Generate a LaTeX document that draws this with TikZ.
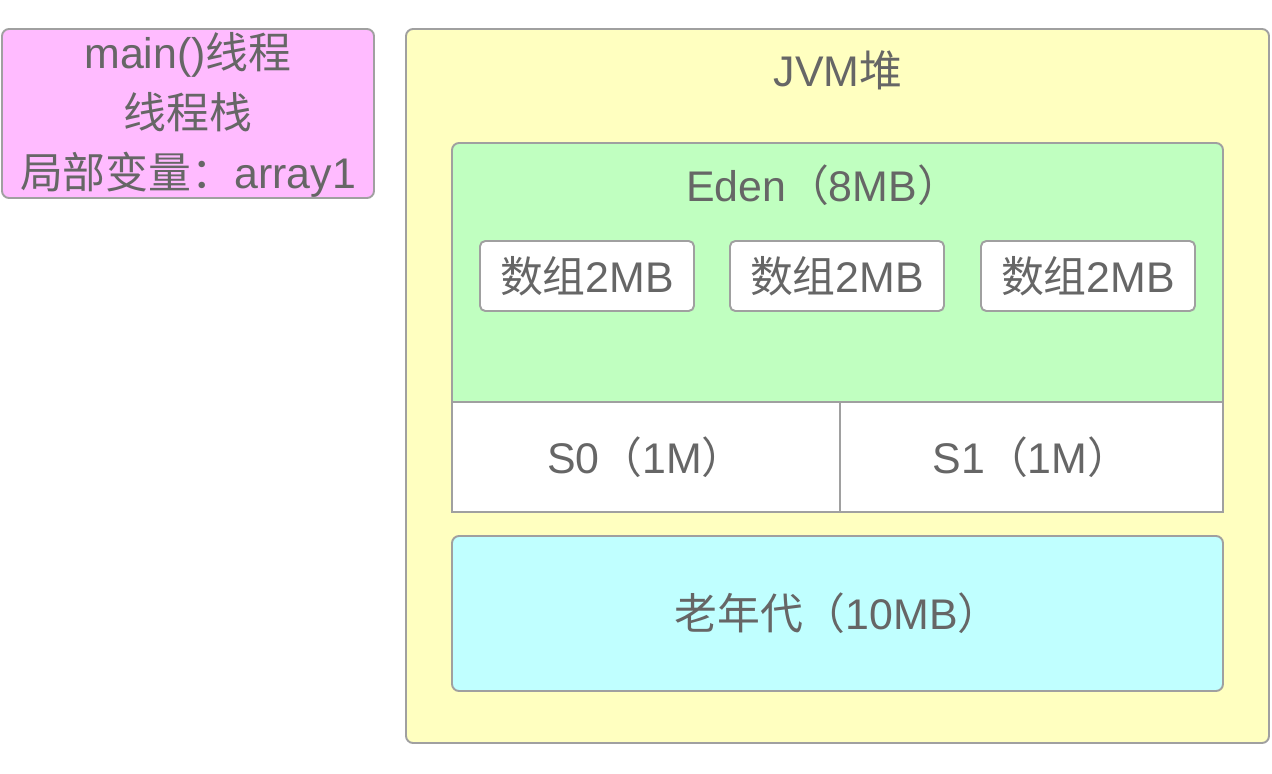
\documentclass[tikz,border=0pt]{standalone}
\usepackage{fontspec}
\setmainfont{Liberation Sans}
\newfontfamily\cjk{Noto Sans CJK SC}
\usetikzlibrary{positioning}
\definecolor{edgegray}{HTML}{A0A0A0}
\definecolor{textgray}{HTML}{666666}
\definecolor{threadpink}{HTML}{FFBBFF}
\definecolor{heapyellow}{HTML}{FFFFC0}
\definecolor{edengreen}{HTML}{C0FFC0}
\definecolor{oldcyan}{HTML}{C0FFFF}

\begin{document}
\begin{tikzpicture}[
  x=0.02cm, y=-0.02cm,
  font=\fontsize{24.4}{29}\selectfont, text=textgray,
  area/.style={draw=edgegray, line width=1.1pt, inner sep=0pt, rounded corners=4pt},
  thread/.style={area, fill=threadpink},
  heap/.style={area, fill=heapyellow},
  eden/.style={area, fill=edengreen},
  old/.style={area, fill=oldcyan},
  arr/.style={area, fill=white, rounded corners=3pt,
              minimum width=214*\px cm, minimum height=70*\px cm},
  surv/.style={area, fill=white, rounded corners=0pt,
               minimum height=110*\px cm},
  label/.style={inner sep=0pt},
]

\def\px{0.02} % 1 px of the sketch

\useasboundingbox (0,0) rectangle (1272,774);

% ---- Thread stack -----------------------------------------------------------
\node[thread, minimum width=372*\px cm, minimum height=169*\px cm]
  (stack) at (188,113.5) {};
\node[label, align=center, font=\fontsize{24.4}{34}\selectfont]
  (stacktext) at (188,115) {main(){\cjk 线程}\\{\cjk 线程栈}\\{\cjk 局部变量：}array1};

% ---- JVM heap ---------------------------------------------------------------
\node[heap, minimum width=863*\px cm, minimum height=714*\px cm]
  (heap) at (837.5,386) {};
\node[label] (heaptitle) at (838,70) {JVM{\cjk 堆}};

% Eden (bottom part is covered by S0/S1)
\node[eden, minimum width=771*\px cm, minimum height=369*\px cm]
  (eden) at (837.5,327.5) {};
\node[label] (edentitle) at (823,185) {Eden{\cjk （}8MB{\cjk ）}};

% arrays in Eden
\node[arr] (arr1) at (587,276) {{\cjk 数组}2MB};
\node[arr] (arr2) at (837,276) {{\cjk 数组}2MB};
\node[arr] (arr3) at (1088,276) {{\cjk 数组}2MB};

% survivor spaces
\node[surv, minimum width=388*\px cm] (s0) at (646,457) {S0{\cjk （}1M{\cjk ）}};
\node[surv, minimum width=383*\px cm] (s1) at (1031.5,457) {S1{\cjk （}1M{\cjk ）}};

% old generation
\node[old, minimum width=771*\px cm, minimum height=155*\px cm]
  (old) at (837.5,613.5) {{\cjk 老年代（}10MB{\cjk ）}};

\end{tikzpicture}
\end{document}
